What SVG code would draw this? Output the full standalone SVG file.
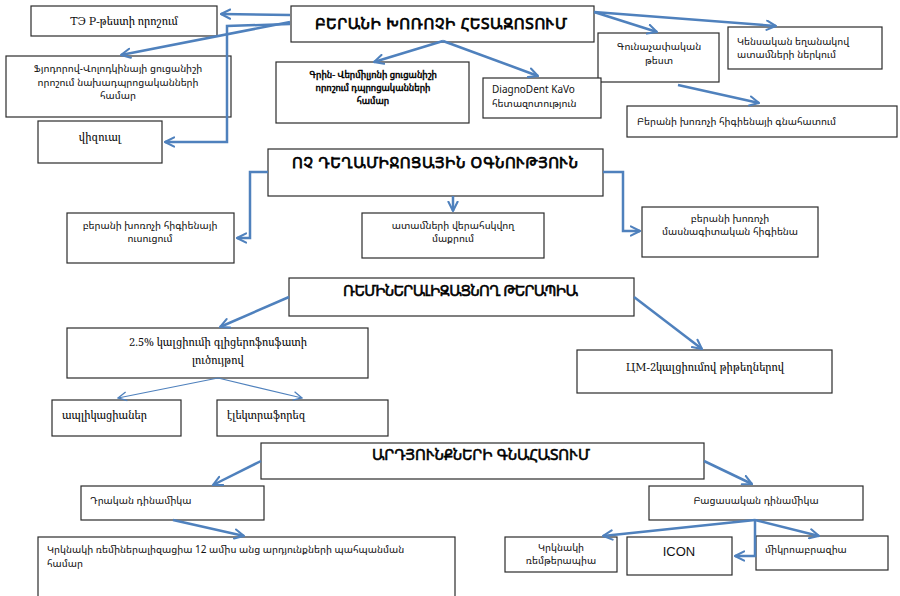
<svg xmlns="http://www.w3.org/2000/svg" width="900" height="596" viewBox="0 0 900 596">
<defs>
<marker id="ah" viewBox="0 0 10 10" refX="9" refY="5" markerWidth="4.6" markerHeight="4.6" orient="auto" markerUnits="strokeWidth">
<path d="M1,1 L9,5 L1,9" fill="none" stroke="#4f81bd" stroke-width="1.8" stroke-linecap="round"/>
</marker>
<marker id="ahs" viewBox="0 0 10 10" refX="9" refY="5" markerWidth="9" markerHeight="9" orient="auto" markerUnits="strokeWidth">
<path d="M1,1 L9,5 L1,9" fill="none" stroke="#4f81bd" stroke-width="1.2"/>
</marker>
<style>
rect{fill:#fff;stroke:#2b2b2b;stroke-width:1.2}
text{fill:#111;font-family:"Noto Sans Armenian","DejaVu Sans","Noto Sans",sans-serif;font-size:10px}
.s{font-family:"Noto Serif Armenian","DejaVu Serif","Liberation Serif",serif;font-size:11px}
.b{font-size:15px;fill:#000;stroke:#000;stroke-width:0.75}
.bs{font-size:9px;fill:#000;stroke:#000;stroke-width:0.45}
.c{text-anchor:middle}
.con path{fill:none;stroke:#4f81bd;stroke-width:2.5;marker-end:url(#ah)}
.con path.t{stroke-width:1.2;marker-end:url(#ahs)}
</style>
</defs>
<rect x="0" y="0" width="900" height="596" style="fill:#fff;stroke:none"/>
<g id="n-tep"><rect x="31" y="6" width="186" height="30"/><text class="s c" x="124" y="25">ТЭ Р-թեստի որոշում</text></g>
<g id="n-title"><rect x="291" y="6" width="303" height="36"/><text class="b" x="315" y="29" textLength="252" lengthAdjust="spacing">ԲԵՐԱՆԻ ԽՈՌՈՉԻ ՀԵՏԱԶՈՏՈՒՄ</text></g>
<g id="n-fyod"><rect x="6" y="56" width="225" height="61"/><text class="c" x="118" y="72">Ֆյոդորով-Վոլոդկինայի ցուցանիշի</text><text class="c" x="118" y="86">որոշում նախադպրոցականների</text><text class="c" x="118" y="99">համար</text></g>
<g id="n-viz"><rect x="38" y="121" width="124" height="42"/><text class="s c" x="100" y="141">վիզուալ</text></g>
<g id="n-green"><rect x="276" y="62" width="193" height="61"/><text class="bs c" x="373" y="78">Գրին- Վերմիլյոնի ցուցանիշի</text><text class="bs c" x="373" y="91">որոշում դպրոցականների</text><text class="bs c" x="373" y="104">համար</text></g>
<g id="n-color"><rect x="598" y="33" width="121" height="49"/><text class="c" x="659" y="50" font-size="10.5">Գունաչափական</text><text class="c" x="659" y="64" font-size="10.5">թեստ</text></g>
<g id="n-diag"><rect x="483" y="78" width="118" height="40"/><text x="492" y="93" font-size="9.5">DiagnoDent  KaVo</text><text x="492" y="107" font-size="9.5">հետազոտություն</text></g>
<g id="n-vital"><rect x="728" y="27" width="154" height="42"/><text x="737" y="45">Կենսական եղանակով</text><text x="737" y="58">ատամների ներկում</text></g>
<g id="n-hyg"><rect x="627" y="106" width="270" height="31"/><text x="637" y="125" font-size="10.5">Բերանի խոռոչի հիգիենայի գնահատում</text></g>
<g id="n-nodrug"><rect x="268" y="149" width="335" height="47"/><text class="b" x="292" y="168" textLength="286" lengthAdjust="spacing">ՈՉ ԴԵՂԱՄԻՋՈՑԱՅԻՆ ՕԳՆՈՒԹՅՈՒՆ</text></g>
<g id="n-teach"><rect x="67" y="213" width="167" height="50"/><text class="c" x="150" y="229" font-size="9.5">բերանի խոռոչի հիգիենայի</text><text class="c" x="150" y="242" font-size="9.5">ուսուցում</text></g>
<g id="n-ctrl"><rect x="362" y="213" width="182" height="45"/><text class="c" x="453" y="229" font-size="9.5">ատամների վերահսկվող</text><text class="c" x="453" y="242" font-size="9.5">մաքրում</text></g>
<g id="n-prof"><rect x="642" y="207" width="176" height="50"/><text class="c" x="730" y="222" font-size="9.5">բերանի խոռոչի</text><text class="c" x="730" y="235" font-size="9.5">մասնագիտական հիգիենա</text></g>
<g id="n-remin"><rect x="289" y="278" width="345" height="38"/><text class="b" x="343" y="296" font-size="13.5" style="stroke-width:0.6" textLength="235" lengthAdjust="spacing">ՌԵՄԻՆԵՐԱԼԻԶԱՑՆՈՂ ԹԵՐԱՊԻԱ</text></g>
<g id="n-calc"><rect x="67" y="328" width="301" height="50"/><text class="s c" x="218" y="346">2.5% կալցիումի գլիցերոֆոսֆատի</text><text class="s c" x="218" y="364">լուծույթով</text></g>
<g id="n-appl"><rect x="52" y="400" width="129" height="36"/><text class="s" x="62" y="419">ապլիկացիաներ</text></g>
<g id="n-elec"><rect x="217" y="400" width="171" height="36"/><text class="s" x="227" y="419">էլեկտրաֆորեզ</text></g>
<g id="n-cm2"><rect x="577" y="350" width="255" height="43"/><text class="s c" x="705" y="371">ЦМ-2կալցիումով թիթեղներով</text></g>
<g id="n-res"><rect x="261" y="443" width="443" height="36"/><text class="b" x="372" y="460" font-size="13.5" style="stroke-width:0.6" textLength="218" lengthAdjust="spacing">ԱՐԴՅՈՒՆՔՆԵՐԻ ԳՆԱՀԱՏՈՒՄ</text></g>
<g id="n-pos"><rect x="81" y="486" width="183" height="34"/><text x="90" y="504" font-size="11">Դրական դինամիկա</text></g>
<g id="n-rep"><rect x="38" y="537" width="417" height="70"/><text x="47" y="553" font-size="9.5">Կրկնակի ռեմիներալիզացիա  12 ամիս անց  արդյունքների պահպանման</text><text x="47" y="567" font-size="9.5">համար</text></g>
<g id="n-neg"><rect x="649" y="486" width="214" height="34"/><text class="c" x="756" y="504" font-size="11">Բացասական դինամիկա</text></g>
<g id="n-remt"><rect x="505" y="537" width="112" height="35"/><text class="c" x="561" y="551" font-size="9.5">Կրկնակի</text><text class="c" x="561" y="564" font-size="9.5">ռեմթերապիա</text></g>
<g id="n-icon"><rect x="627" y="537" width="105" height="38"/><text class="c" x="679" y="556" style="font-family:'Liberation Sans',Arial,sans-serif;font-size:13px">ICON</text></g>
<g id="n-micro"><rect x="756" y="536" width="132" height="34"/><text x="765" y="553" font-size="10.5">միկրոաբրազիա</text></g>
<g class="con">
<path d="M290,15 L221,14"/>
<path d="M290,22 L121,55"/>
<path d="M290,24 L227,26 L227,142 L165,142"/>
<path d="M443,41 L374,62"/>
<path d="M443,41 L538,76"/>
<path d="M594,12 L657,32"/>
<path d="M594,12 L776,26"/>
<path d="M678,85 L759,103"/>
<path d="M268,172 L250,172 L250,238 L237,238"/>
<path d="M453,196 L453,211"/>
<path d="M603,172 L623,172 L623,231 L640,231"/>
<path d="M289,297 L220,327"/>
<path d="M634,297 L702,349"/>
<path class="t" d="M218,378 L118,398"/>
<path class="t" d="M218,378 L302,398"/>
<path d="M261,461 L213,485"/>
<path d="M704,461 L752,484"/>
<path d="M173,520 L244,536"/>
<path d="M755,520 L603,536"/>
<path d="M755,520 L755,556 L735,556"/>
<path d="M755,520 L819,536"/>
</g>
</svg>
